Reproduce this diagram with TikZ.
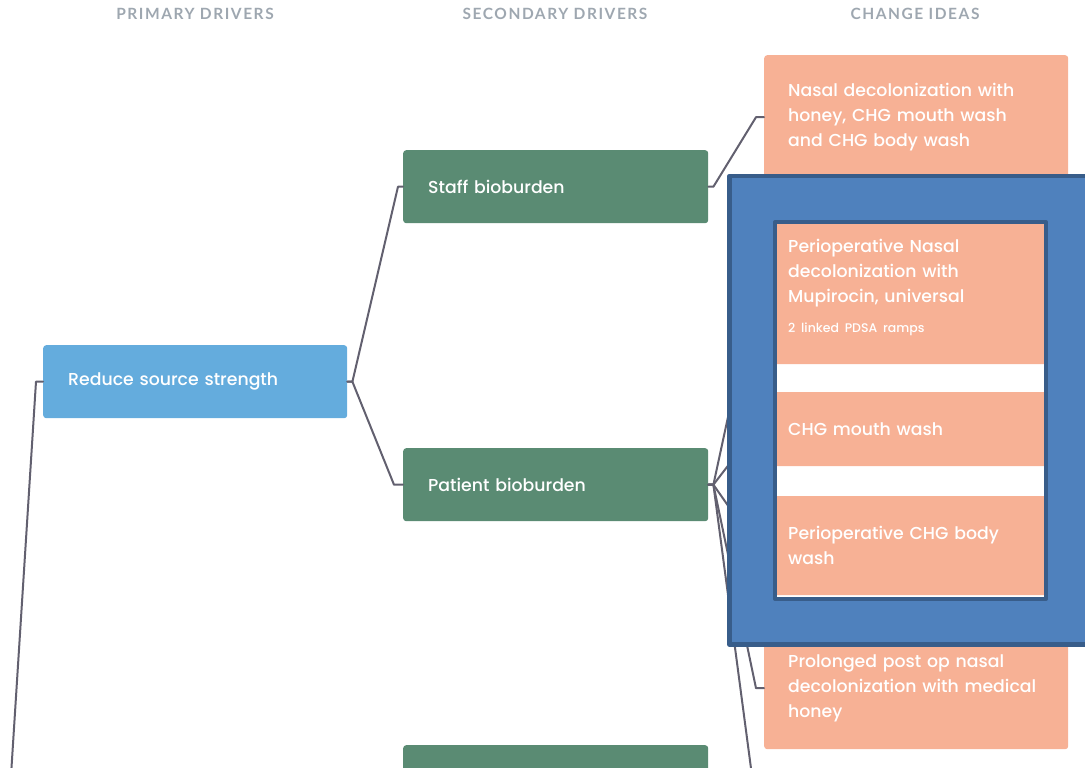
\documentclass[tikz,border=0pt]{standalone}
\usepackage{fontspec}
\setmainfont{Poppins Medium}
\newfontfamily\headfont{Lato}[LetterSpace=10]
\definecolor{primblue}{HTML}{64ACDD}
\definecolor{secgreen}{HTML}{5A8B73}
\definecolor{ideasalmon}{HTML}{F7B195}
\definecolor{hlblue}{HTML}{4F81BD}
\definecolor{hldark}{HTML}{385D8A}
\definecolor{connline}{HTML}{62606F}
\definecolor{headgray}{HTML}{9EA7B0}
\tikzset{
  box/.style={anchor=north west, rounded corners=3pt, text=white, align=left,
    inner ysep=0pt},
  prim/.style={box, fill=primblue, inner xsep=25pt, text width=254pt, minimum height=73pt},
  sec/.style={box, fill=secgreen, inner xsep=25pt, text width=255pt, minimum height=73pt},
  idea/.style={box, fill=ideasalmon, inner xsep=24pt, text width=256pt},
  conn/.style={draw=connline, line width=2pt},
  head/.style={text=headgray, font=\headfont\bfseries\fontsize{15.5}{18}\selectfont},
}
\begin{document}
\begin{tikzpicture}[x=1pt, y=-1pt, font=\fontsize{17.3}{25}\selectfont, line join=round, line cap=round]
				\useasboundingbox (0,0) rectangle (1085,768);
				\clip (0,0) rectangle (1085,768);
				% column heads
				\node[head] (hprim) at (195,14) {PRIMARY DRIVERS};
				\node[head] (hsec) at (555,14) {SECONDARY DRIVERS};
				\node[head] (hidea) at (915,14) {CHANGE IDEAS};
				% drivers
				\node[prim] (red) at (43,345) {Reduce source strength};
				\node[sec] (staff) at (403,150) {Staff bioburden};
				\node[sec] (pat) at (403,448) {Patient bioburden};
				\node[sec] (sec3) at (403,745) {};
				% change ideas
				\node[idea, minimum height=124pt] (ci1) at (764,55) {Nasal decolonization with\\honey, CHG mouth wash\\and CHG body wash};
				\node[idea, minimum height=154pt] (ci2) at (764,210) {Perioperative Nasal\\decolonization with\\Mupirocin, universal\\[5pt]\fontsize{12.5}{14}\selectfont 2 linked PDSA ramps};
				\node[idea, minimum height=74pt] (ci3) at (764,392) {CHG mouth wash};
				\node[idea, minimum height=99pt] (ci4) at (764,496) {Perioperative CHG body\\wash};
				\node[idea, minimum height=122pt] (ci5) at (764,627) {Prolonged post op nasal\\decolonization with medical\\honey};
				\coordinate (ci6) at (764,806);
				\coordinate (root) at (5,870);
				% connectors
				\draw[conn] (red.west) -- ++(-7,0) -- (root);
				\draw[conn] (red.east) -- ++(5,0) -- ([xshift=-5pt]staff.west) -- (staff.west);
				\draw[conn] (red.east) -- ++(5,0) -- ([xshift=-9pt]pat.west) -- (pat.west);
				\draw[conn] (staff.east) -- ++(5,0) -- ([xshift=-8pt]ci1.west) -- (ci1.west);
				\foreach \t in {ci2,ci3,ci4,ci5}
					\draw[conn] (pat.east) -- ++(5,0) -- ([xshift=-8pt]\t.west) -- (\t.west);
				\draw[conn] (pat.east) -- ++(5,0) -- ([xshift=-8pt]ci6) -- (ci6);
				% highlight frame
				\fill[hlblue, even odd rule] (729.5,176) rectangle (1092,644.5) (775,222) rectangle (1046,599);
				\draw[hldark, line width=4.5pt] (729.5,176) rectangle (1092,644.5);
				\draw[hldark, line width=4pt] (775,222) rectangle (1046,599);
			\end{tikzpicture}
\end{document}
